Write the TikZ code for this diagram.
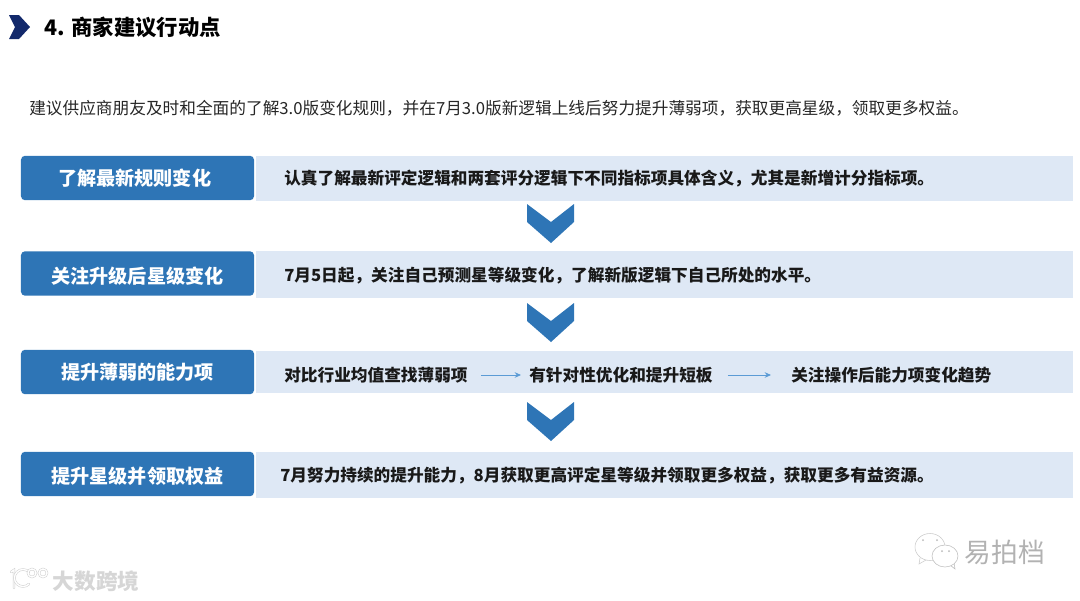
\documentclass[tikz,border=0pt]{standalone}
\usepackage{fontspec}
\setmainfont{Noto Sans CJK SC}
\usetikzlibrary{arrows.meta,positioning}
\definecolor{stepblue}{HTML}{2E75B6}
\definecolor{bandblue}{HTML}{DEE8F5}
\definecolor{navy}{HTML}{12296B}
\definecolor{flowblue}{HTML}{5B9BD5}

\begin{document}
\begin{tikzpicture}[
  x=0.025cm, y=-0.025cm,
  >=Stealth,
  stepbox/.style={fill=stepblue, rounded corners=0.1cm, minimum width=5.825cm,
                  minimum height=1.11cm, inner sep=0pt, text=white,
                  font=\fontsize{13.6}{16}\selectfont\bfseries},
  band/.style={fill=bandblue, minimum width=20.425cm, inner sep=0pt},
  bandtext/.style={anchor=west, inner sep=0pt, text=black!90,
                   font=\fontsize{11.85}{14}\selectfont\bfseries},
  flow/.style={-{Stealth[length=4.5pt,width=4pt]}, flowblue, line width=0.6pt},
  chevron/.style={fill=stepblue},
  mark text/.style={inner sep=0pt, text=gray!60},
  logo/.style={draw=gray!40, line width=0.35pt, double=white, double distance=1pt, line cap=round},
]
\useasboundingbox (0,0) rectangle (1080,600);

% heading
\fill[navy] (9,15) -- (19,15) -- (30,27) -- (19,39) -- (9,39) -- (15,27) -- cycle;
\node[anchor=west, inner sep=0pt, font=\fontsize{15.2}{18}\selectfont\bfseries] (title) at (44,27) {4. 商家建议行动点};
\node[anchor=west, inner sep=0pt, text=black!85, font=\fontsize{11.86}{14}\selectfont] (intro) at (29,108)
  {建议供应商朋友及时和全面的了解3.0版变化规则，并在7月3.0版新逻辑上线后努力提升薄弱项，获取更高星级，领取更多权益。};

% light bands
\node[band, minimum height=1.125cm] (band1) at (664.5,178.5) {};
\node[band, minimum height=1.175cm] (band2) at (664.5,274.5) {};
\node[band, minimum height=1.05cm]  (band3) at (664.5,372) {};
\node[band, minimum height=1.15cm]  (band4) at (664.5,475) {};

% blue labels
\node[stepbox] (rule)  at (137.5,178) {\kern-4pt 了解最新规则变化};
\node[stepbox] (star)  at (137.5,273.5) {\rule{0pt}{15pt}关注升级后星级变化};
\node[stepbox] (weak)  at (137.5,372) {提升薄弱的能力项};
\node[stepbox] (gain)  at (137.5,474) {\rule{0pt}{15.4pt}提升星级并领取权益};

% band texts
\node[bandtext] (ruletext) at (284,179) {认真了解最新评定逻辑和两套评分逻辑下不同指标项具体含义，尤其是新增计分指标项。};
\node[bandtext] (startext) at (284,276) {7月5日起，关注自己预测星等级变化，了解新版逻辑下自己所处的水平。};
\node[bandtext] (weaka) at (284,375) {对比行业均值查找薄弱项};
\node[bandtext] (weakb) at (529,375) {有针对性优化和提升短板};
\node[bandtext] (weakc) at (791,375) {关注操作后能力项变化趋势};
\node[bandtext] (gaintext) at (280,476) {7月努力持续的提升能力，8月获取更高评定星等级并领取更多权益，获取更多有益资源。};

% flow arrows
\draw[flow, shorten <=0.325cm, shorten >=0.2cm] (weaka) -- (weakb);
\draw[flow, shorten <=0.375cm, shorten >=0.5cm] (weakb) -- (weakc);

% chevrons
\foreach \top in {204,303,402}
  \fill[chevron] (527,\top) -- (551,\top+18) -- (574,\top) -- (574,\top+18)
    -- (551,\top+39) -- (527,\top+18) -- cycle;

% watermarks
\draw[gray!40, thin] (920,558) -- (919,564) -- (926,560);
\draw[gray!40, thin, fill=white] (930,547) ellipse (15 and 13.5);
\draw[gray!50, thin] (950,565) -- (955,569) -- (954,563);
\draw[gray!50, thin, fill=white] (945,556) ellipse (13 and 11);
\fill[gray!55] (923,540) circle (1) (937,540) circle (1) (942,551) circle (1) (949,551) circle (1);
\node[mark text, font=\fontsize{19}{22}\selectfont] (brand) at (1005,552) {易拍档};
\draw[logo] (11,572) -- (14,570) -- (14,588);
\draw[logo] (29,584) arc (45:315:8.5);
\draw[logo] (32,573) circle (4) (43,573) circle (4);
\node[mark text, text=gray!32, font=\fontsize{15.4}{18}\selectfont\bfseries] (source) at (96,581) {大数跨境};
\end{tikzpicture}
\end{document}
